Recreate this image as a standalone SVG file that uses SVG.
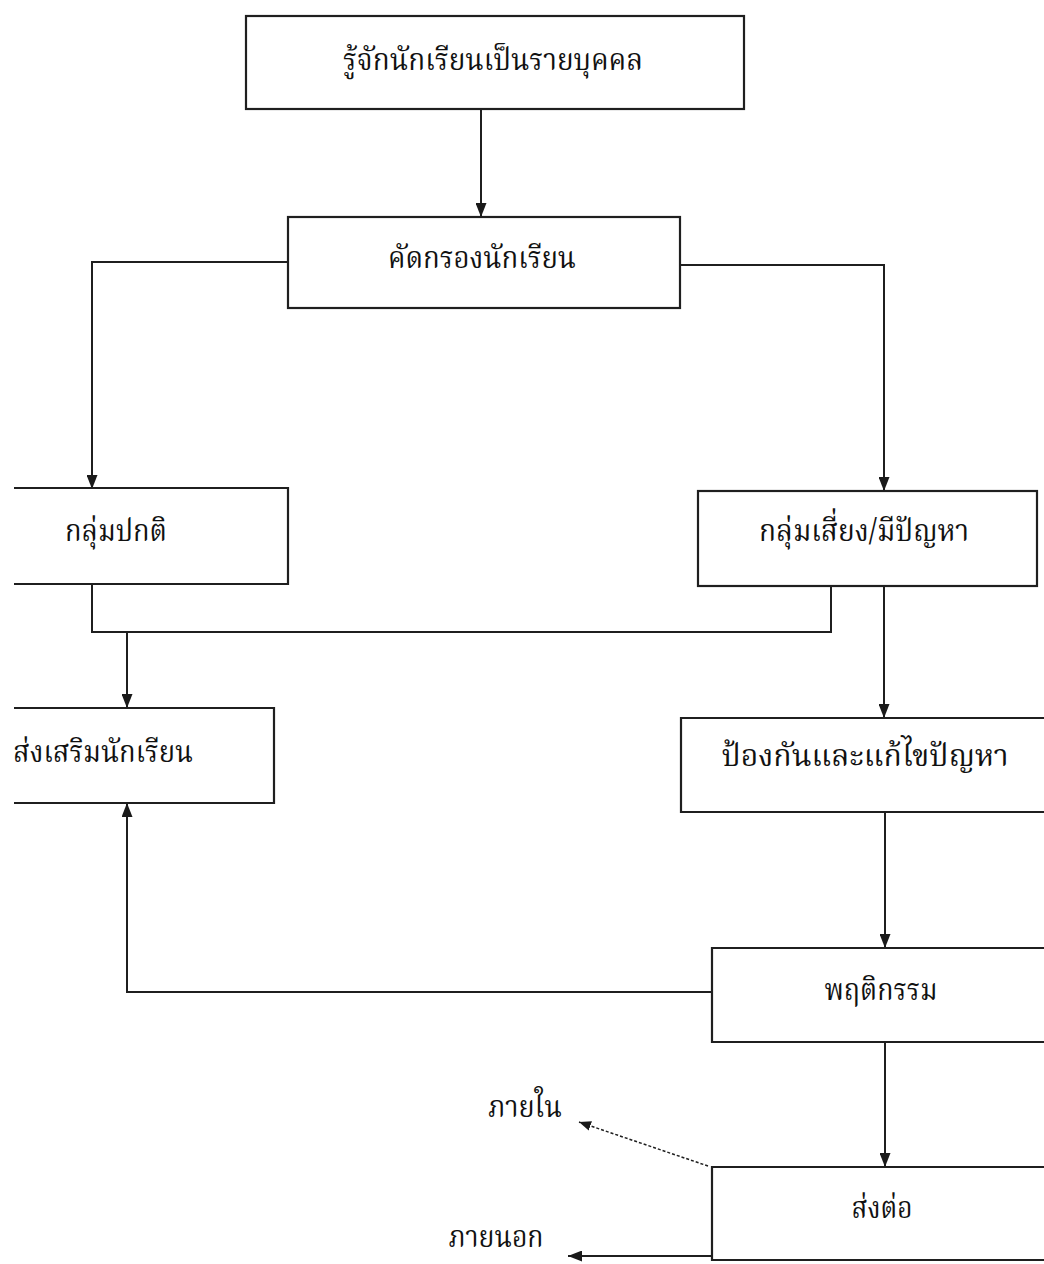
<svg xmlns="http://www.w3.org/2000/svg" width="1044" height="1264" viewBox="0 0 1044 1264">
<defs>
<marker id="ah" markerUnits="userSpaceOnUse" markerWidth="15" markerHeight="11" refX="14" refY="5.5" orient="auto">
<path d="M0,0 L14,5.5 L0,11 Z" fill="#1a1a1a"/>
</marker>
<marker id="ahs" markerUnits="userSpaceOnUse" markerWidth="13" markerHeight="10" refX="12" refY="5" orient="auto">
<path d="M0,0 L12,5 L0,10 Z" fill="#1a1a1a"/>
</marker>
</defs>
<style>
.box{fill:#ffffff;stroke:#1f1f1f;stroke-width:2.2}
.open{fill:none;stroke:#1f1f1f;stroke-width:2.2}
.lbl{font-family:"Noto Serif Thai","Noto Sans Thai","Loma","Garuda","Noto Sans",sans-serif;font-size:31px;fill:#111;text-anchor:middle}
.con{fill:none;stroke:#1f1f1f;stroke-width:2}
.arr{marker-end:url(#ah)}
.dash{fill:none;stroke:#1f1f1f;stroke-width:1.5;stroke-dasharray:3 2;marker-end:url(#ahs)}
</style>
<rect width="1044" height="1264" fill="#ffffff"/>
<g id="connectors">
<path class="con arr" d="M481,109 V217"/>
<path class="con arr" d="M288,262 H92 V489"/>
<path class="con arr" d="M680,265 H884 V491"/>
<path class="con" d="M92,584 V632 H831 V586"/>
<path class="con arr" d="M127,632 V708"/>
<path class="con arr" d="M884,586 V718"/>
<path class="con arr" d="M885,812 V948"/>
<path class="con arr" d="M712,992 H127 V803"/>
<path class="con arr" d="M885,1042 V1167"/>
<path class="dash" d="M708,1166 L579,1122"/>
<path class="con arr" d="M712,1256 H568"/>
</g>
<g id="n1">
<rect class="box" x="246" y="16" width="498" height="93"/>
<text class="lbl" x="493" y="70" textLength="300" lengthAdjust="spacingAndGlyphs">รู้จักนักเรียนเป็นรายบุคคล</text>
</g>
<g id="n2">
<rect class="box" x="288" y="217" width="392" height="91"/>
<text class="lbl" x="482" y="268" textLength="188" lengthAdjust="spacingAndGlyphs">คัดกรองนักเรียน</text>
</g>
<g id="n3">
<path class="open" d="M14,488 H288 V584 H14"/>
<text class="lbl" x="116" y="541" textLength="102" lengthAdjust="spacingAndGlyphs">กลุ่มปกติ</text>
</g>
<g id="n4">
<rect class="box" x="698" y="491" width="339" height="95"/>
<text class="lbl" x="864" y="541" textLength="210" lengthAdjust="spacingAndGlyphs">กลุ่มเสี่ยง/มีปัญหา</text>
</g>
<g id="n5">
<path class="open" d="M14,708 H274 V803 H14"/>
<text class="lbl" x="103" y="762" textLength="180" lengthAdjust="spacingAndGlyphs">ส่งเสริมนักเรียน</text>
</g>
<g id="n6">
<path class="open" d="M1050,718 H681 V812 H1050"/>
<text class="lbl" x="865" y="766" textLength="287" lengthAdjust="spacingAndGlyphs">ป้องกันและแก้ไขปัญหา</text>
</g>
<g id="n7">
<path class="open" d="M1050,948 H712 V1042 H1050"/>
<text class="lbl" x="881" y="1000" textLength="113" lengthAdjust="spacingAndGlyphs">พฤติกรรม</text>
</g>
<g id="n8">
<path class="open" d="M1050,1167 H712 V1260 H1050"/>
<text class="lbl" x="882" y="1218" textLength="61" lengthAdjust="spacingAndGlyphs">ส่งต่อ</text>
</g>
<g id="n9">
<text class="lbl" x="525" y="1117" textLength="74" lengthAdjust="spacingAndGlyphs">ภายใน</text>
</g>
<g id="n10">
<text class="lbl" x="496" y="1247" font-size="26" textLength="95" lengthAdjust="spacingAndGlyphs">ภายนอก</text>
</g>
</svg>
